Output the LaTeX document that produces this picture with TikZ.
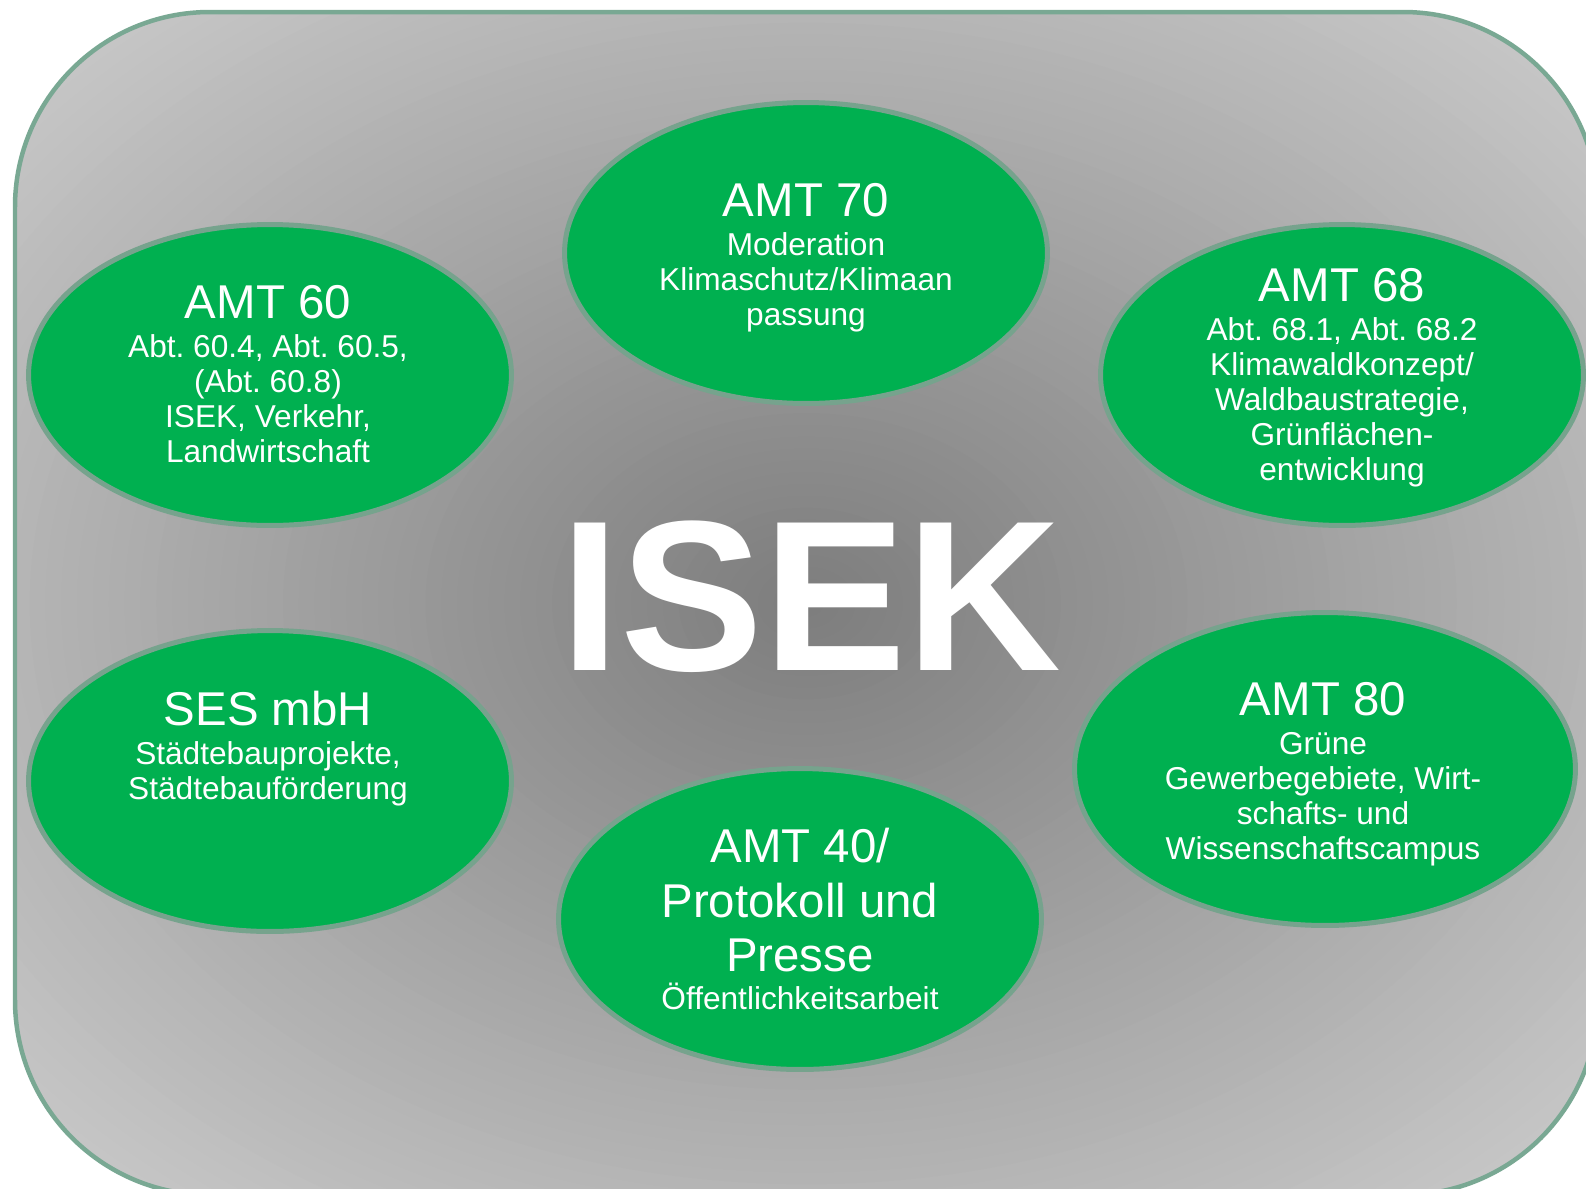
\documentclass[tikz,border=0pt]{standalone}
\usepackage{fontspec}
\setmainfont{Liberation Sans}
\usetikzlibrary{shapes.geometric}
\frenchspacing

\definecolor{amtgreen}{HTML}{00B050}
\definecolor{ringgreen}{HTML}{76A38D}
\definecolor{framegreen}{HTML}{79A893}

\newcommand\bodysize{\fontsize{18pt}{20pt}\selectfont}
\newcommand\ttlsize{\fontsize{27pt}{31pt}\selectfont}
\newcommand\ttl[1]{{\ttlsize #1}}

\begin{document}
\begin{tikzpicture}[x=0.02cm,y=-0.02cm,
  amt/.style={ellipse,draw=ringgreen,line width=0.1cm,fill=amtgreen,inner sep=0pt,minimum width=9.66cm,minimum height=6.02cm},
  txt/.style={text=white,align=center,inner sep=0pt,anchor=north,font=\bodysize}]
\useasboundingbox (0,0) rectangle (1586,1188);
\fill[white] (0,0) rectangle (1586,1188);
\clip (0,0) rectangle (1586,1188);

% grey backdrop, dark in the middle
\begin{scope}
\clip[rounded corners=3.9cm] (15,12) rectangle (1598,1195);
\foreach \i in {0,...,68}{
  \pgfmathsetmacro\r{(68-\i)/50}
  \pgfmathtruncatemacro\g{min(202,125+56*\r)}
  \fill[fill={rgb,255:red,\g;green,\g;blue,\g}] (806.5,603.5) ellipse [x radius=791.5*\r+1, y radius=591.5*\r+1];
}
\end{scope}
\draw[framegreen,line width=0.09cm,rounded corners=3.9cm] (15,12) rectangle (1598,1195);

\node[text=white,inner sep=0pt,font=\fontsize{122pt}{140pt}\selectfont\bfseries] (isek) at (811,597) {ISEK};

\node[amt] (amt70) at (806,253) {};
\node[amt] (amt60) at (270,375) {};
\node[amt] (amt68) at (1342,375) {};
\node[amt] (ses) at (270,781) {};
\node[amt,minimum width=10.02cm,minimum height=6.26cm] (amt80) at (1325,769) {};
\node[amt] (amt40) at (800,919) {};

\node[txt] (t70) at (806,183) {\ttl{AMT 70}\\[2pt] Moderation\\ Klimaschutz/Klimaan\\ passung};
\node[txt] (t60) at (268,285) {\ttl{AMT 60}\\[2pt] Abt. 60.4, Abt. 60.5,\\ (Abt. 60.8)\\ ISEK, Verkehr,\\ Landwirtschaft};
\node[txt] (t68) at (1342,268) {\ttl{AMT 68}\\[2pt] Abt. 68.1, Abt. 68.2\\ Klimawaldkonzept/\\ Waldbaustrategie,\\ Grünflächen-\\ entwicklung};
\node[txt] (tses) at (268,691) {\ttl{SES mbH}\\[2pt] Städtebauprojekte,\\ Städtebauförderung};
\node[txt] (t80) at (1323,682) {\ttl{AMT 80}\\[2pt] Grüne\\ Gewerbegebiete, Wirt-\\ schafts- und\\ Wissenschaftscampus};
\node[txt,font=\ttlsize] (t40) at (800,828) {AMT 40/\\ Protokoll und\\ Presse\\[-9.4pt] {\bodysize Öffentlichkeitsarbeit}};
\end{tikzpicture}
\end{document}
